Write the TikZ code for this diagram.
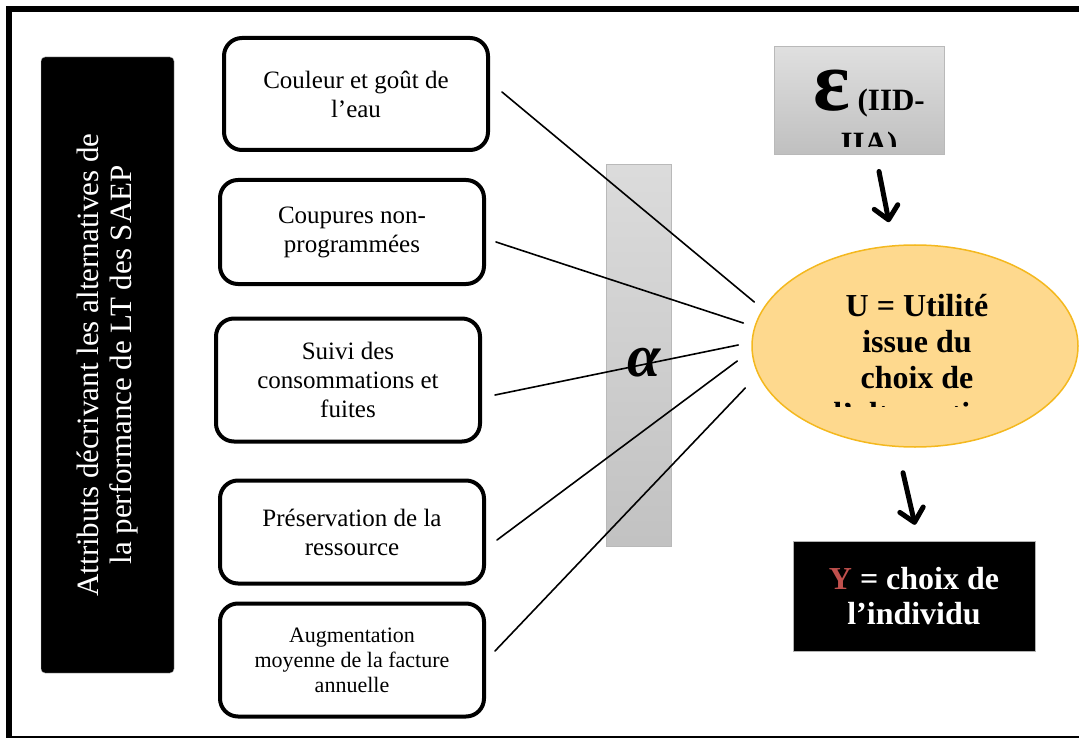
\documentclass[tikz,border=0pt]{standalone}
\usepackage{fontspec}
\setmainfont{Liberation Serif}
\usetikzlibrary{calc,arrows.meta,shapes.geometric,positioning}
\definecolor{ured}{RGB}{192,80,77}
\definecolor{ufill}{RGB}{254,217,142}
\definecolor{uline}{RGB}{244,184,30}
\tikzset{
	attrbox/.style={
		draw, rectangle, rounded corners=18pt, line width=4pt,
		minimum width=264pt, align=center, text=black,
		font=\fontsize{25}{29}\selectfont
	},
}

\begin{document}
\begin{tikzpicture}[
		x=1pt, y=-1pt,
		graybox/.style={draw=gray!55, line width=1pt, rectangle},
		link/.style={line width=1.6pt, line cap=round},
		bigarrow/.style={line width=5pt, line cap=round,
			-{Straight Barb[length=13pt, width=24pt, round]}}
		]
		\useasboundingbox (0,0) rectangle (1079,738);
		\clip (0,0) rectangle (1079,738);

		\draw[line width=6pt] (1100,9) -- (9,9) -- (9,741);
		\draw[line width=1.5pt] (9,737) -- (1100,737);

		\node[fill=black, draw=gray!60, rounded corners=4pt, rotate=90,
			minimum width=616pt, minimum height=133pt, text=white, align=center,
			font=\fontsize{31}{33}\selectfont] (Attr) at (107.5,365)
			{Attributs décrivant les alternatives de\\la performance de LT des SAEP};

		\node[attrbox, minimum height=112pt] (A) at (356,94) {Couleur et goût de\\l’eau};
		\node[attrbox, minimum height=104pt] (B) at (352,232) {Coupures non-\\programmées};
		\node[attrbox, minimum height=123pt] (C) at (348,380) {Suivi des\\consommations et\\fuites};
		\node[attrbox, minimum height=103pt] (D) at (352,532) {Préservation de la\\ressource};
		\node[attrbox, minimum height=113pt, font=\fontsize{22}{25}\selectfont] (E) at (352,660)
			{Augmentation\\moyenne de la facture\\annuelle};

		\node[graybox, top color=gray!28, bottom color=gray!48,
			minimum width=65pt, minimum height=381pt] (Alpha) at (638.5,355.5) {};
		\node[font=\fontsize{60}{60}\bfseries\itshape, inner sep=0pt] (alphatxt) at (644,363) {α};

		\node[ellipse, draw=uline, line width=1.5pt, fill=ufill,
			minimum width=326pt, minimum height=202pt] (U) at (915,346) {};
		\path (U.south -| U.west) ++(0,-41) coordinate (uclip);
		\begin{scope}
			\clip (uclip) rectangle (U.north -| U.east);
			\node[align=center, font=\bfseries\fontsize{32}{36}\selectfont] (Utxt)
				at ([shift={(2,14)}]U.center) {U = Utilité\\issue du\\choix de\\l’alternative};
		\end{scope}

		\coordinate (e1) at ([shift={(3,-44)}]U.west);
		\coordinate (e2) at ([shift={(-8,-23)}]U.west);
		\coordinate (e3) at ([shift={(-13,-1)}]U.west);
		\coordinate (e4) at ([shift={(-14,15)}]U.west);
		\coordinate (e5) at ([shift={(-6,42)}]U.west);

		\draw[link] ([shift={(12,-2)}]A.east) -- (e1);
		\draw[link] ([shift={(10,10)}]B.east) -- (e2);
		\draw[link] ([shift={(13,15)}]C.east) -- (e3);
		\draw[link] ([shift={(11,8)}]D.east) -- (e4);
		\draw[link] ([shift={(9,-9)}]E.east) -- (e5);

		\node[graybox, top color=gray!25, bottom color=gray!50,
			minimum width=170pt, minimum height=108pt] (Eps) at (859,101) {};
		\begin{scope}
			\clip ($(Eps.south west)+(2,-9)$) rectangle (Eps.north east);
			\node[align=center, font=\bfseries\fontsize{31}{43}\selectfont] (Epstxt)
				at (869,115) {{\fontsize{86}{86}\selectfont ε} (IID-\\IIA)};
		\end{scope}

		\node[fill=black, draw=gray!60, minimum width=242pt, minimum height=110pt,
			text=white, align=center, font=\bfseries\fontsize{32}{35}\selectfont] (Y) at (914,596)
			{\textcolor{ured}{Y} = choix de\\l’individu};

		\draw[bigarrow] ([shift={(20,16)}]Eps.south) -- ([shift={(-26,-22)}]U.north);
		\draw[bigarrow] ([shift={(-12,25)}]U.south) -- ([shift={(1,-16)}]Y.north);
	\end{tikzpicture}
\end{document}
